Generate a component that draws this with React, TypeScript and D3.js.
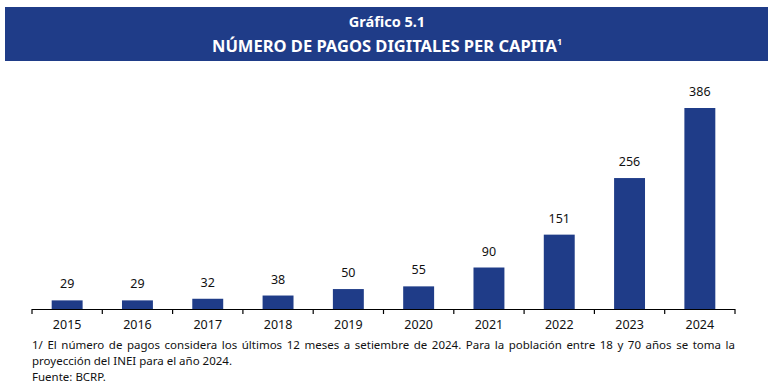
import React, { useRef, useEffect } from 'react';
import * as d3 from 'd3';

const years = ['2015', '2016', '2017', '2018', '2019', '2020', '2021', '2022', '2023', '2024'];
const pagos = [29, 29, 32, 38, 50, 55, 90, 151, 256, 386];

const titleLine = 'Gráfico 5.1';
const subtitleLine = 'NÚMERO DE PAGOS DIGITALES PER CAPITA';
const noteLines = [
  '1/ El número de pagos considera los últimos 12 meses a setiembre de 2024. Para la población entre 18 y 70 años se toma la',
  'proyección del INEI para el año 2024.',
  'Fuente: BCRP.',
];

const W = 774;
const H = 389;
const blue = '#1f3c88';
const bodyFont = '"Noto Sans", sans-serif';

const App = () => {
  const ref = useRef<SVGSVGElement | null>(null);

  useEffect(() => {
    if (!ref.current) return;
    const svg = d3.select(ref.current);
    svg.selectAll('*').remove();

    // header band
    svg.append('rect')
      .attr('x', 5).attr('y', 7)
      .attr('width', 763).attr('height', 54)
      .attr('fill', blue);

    svg.append('text')
      .attr('x', W / 2).attr('y', 27)
      .attr('text-anchor', 'middle')
      .attr('fill', '#fff')
      .style('font-family', bodyFont)
      .style('font-weight', 700)
      .style('font-size', '14.5px')
      .text(titleLine);

    const sub = svg.append('text')
      .attr('x', W / 2).attr('y', 52)
      .attr('text-anchor', 'middle')
      .attr('fill', '#fff')
      .style('font-family', bodyFont)
      .style('font-weight', 700)
      .style('font-size', '16.5px');
    sub.append('tspan').text(subtitleLine);
    sub.append('tspan').attr('dy', -7).style('font-size', '9px').text('1');

    const x = d3.scaleBand()
      .domain(years)
      .range([32, 735])
      .paddingInner(0.56)
      .paddingOuter(0.28);

    // the original axis does not start at zero
    const y = d3.scaleLinear()
      .domain([13, 386])
      .range([309, 108]);

    svg.append('g')
      .selectAll('rect')
      .data(pagos)
      .enter()
      .append('rect')
      .attr('x', (d, i) => x(years[i]) as number)
      .attr('y', d => y(d))
      .attr('width', x.bandwidth())
      .attr('height', d => y(13) - y(d))
      .attr('fill', blue);

    svg.append('g')
      .selectAll('text')
      .data(pagos)
      .enter()
      .append('text')
      .attr('x', (d, i) => (x(years[i]) as number) + x.bandwidth() / 2)
      .attr('y', d => y(d) - 12)
      .attr('text-anchor', 'middle')
      .attr('fill', '#111')
      .style('font-family', bodyFont)
      .style('font-size', '12.5px')
      .text(d => d);

    // axis with ticks between categories
    const edges = d3.range(years.length + 1).map(i => 32 + i * (703 / years.length));
    const axis = svg.append('g');
    axis.append('line')
      .attr('x1', 32).attr('x2', 735)
      .attr('y1', 309.5).attr('y2', 309.5)
      .attr('stroke', '#000').attr('stroke-width', 1.2);
    axis.selectAll('line.tick')
      .data(edges)
      .enter()
      .append('line')
      .attr('class', 'tick')
      .attr('x1', d => d).attr('x2', d => d)
      .attr('y1', 309).attr('y2', 314)
      .attr('stroke', '#000').attr('stroke-width', 1.2);
    axis.selectAll('text')
      .data(years)
      .enter()
      .append('text')
      .attr('x', d => (x(d) as number) + x.bandwidth() / 2)
      .attr('y', 329)
      .attr('text-anchor', 'middle')
      .attr('fill', '#111')
      .style('font-family', bodyFont)
      .style('font-size', '12.5px')
      .text(d => d);

    // footnotes, first line justified
    const notes = svg.append('g')
      .style('font-family', bodyFont)
      .style('font-size', '11.5px')
      .attr('fill', '#111');
    noteLines.forEach((line, li) => {
      const yy = 349 + li * 16;
      if (li === 0) {
        const words = line.split(' ');
        const g = notes.append('g');
        const nodes = words.map(w => g.append('text').attr('y', yy).text(w));
        const widths = nodes.map(n => (n.node() as SVGTextElement).getComputedTextLength());
        const total = d3.sum(widths);
        const gap = (735 - 32 - total) / (words.length - 1);
        let cx = 32;
        nodes.forEach((n, i) => {
          n.attr('x', cx);
          cx += widths[i] + gap;
        });
      } else {
        notes.append('text').attr('x', 32).attr('y', yy).text(line);
      }
    });
  }, []);

  return (
    <svg ref={ref} width={W} height={H} style={{ position: 'absolute', left: 0, top: 0, background: '#fff' }} />
  );
};

export default App;
